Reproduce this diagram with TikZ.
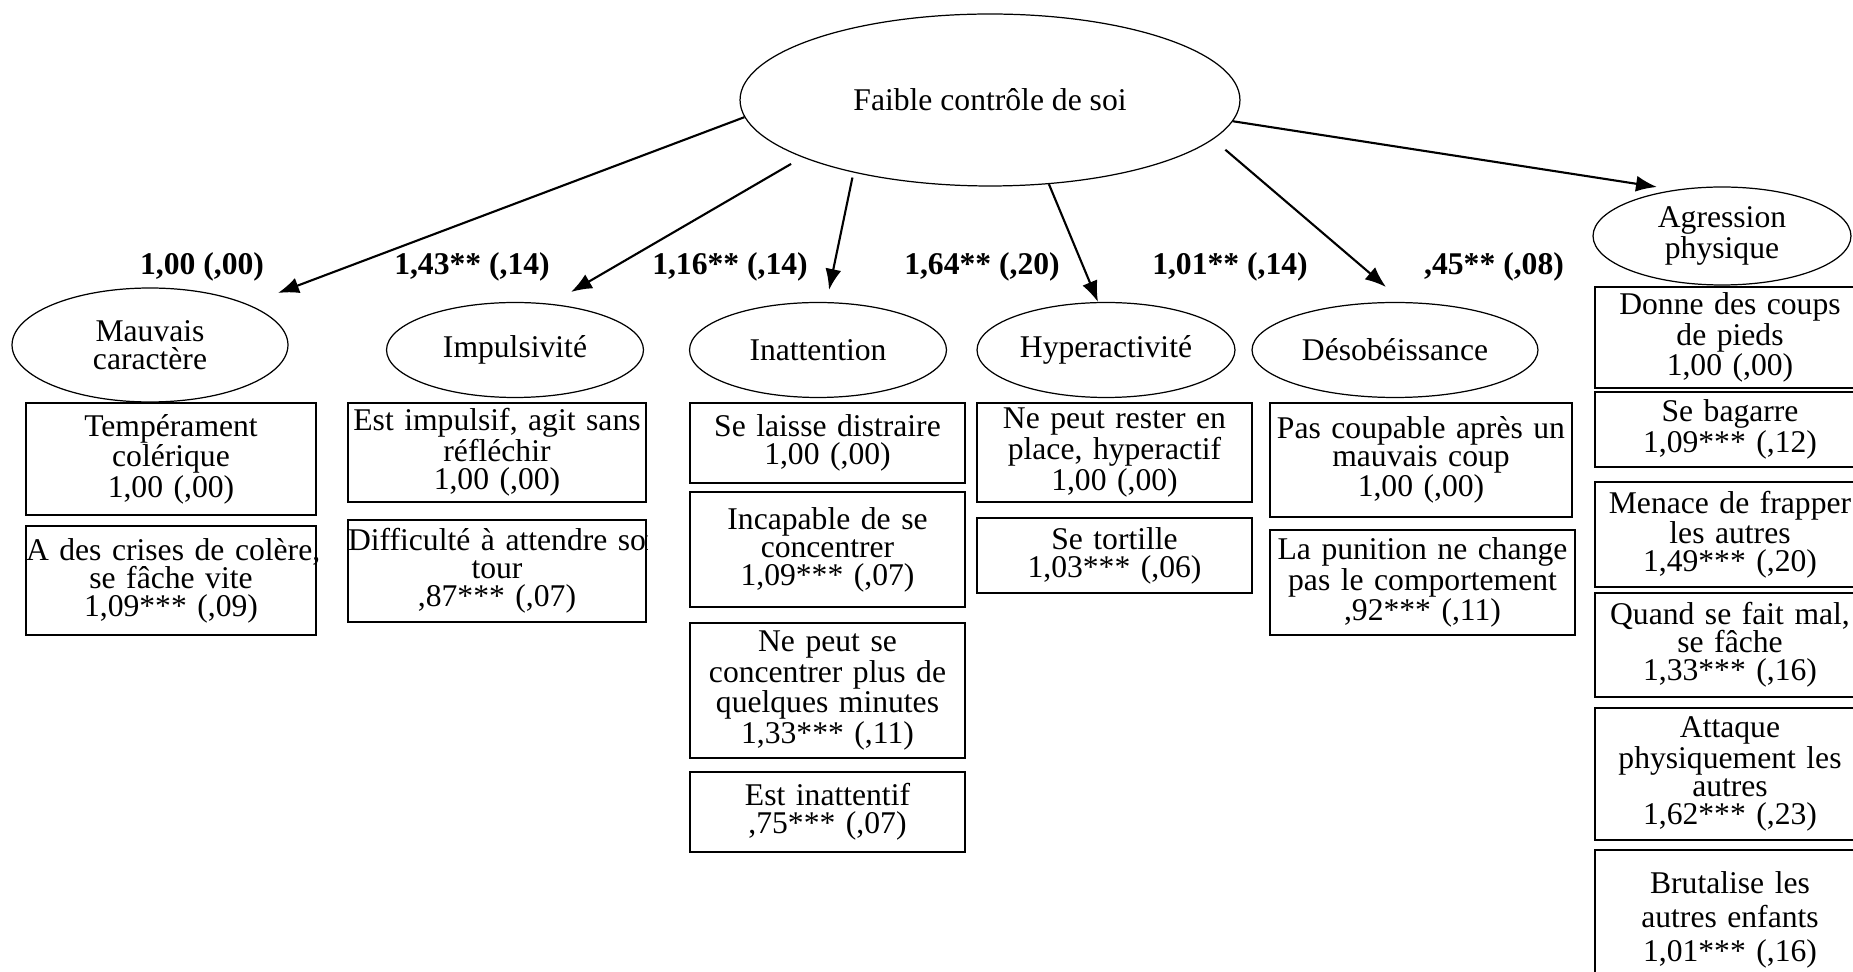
\documentclass[tikz,border=0pt]{standalone}
\usepackage{fontspec}
\setmainfont{Liberation Serif}
\usetikzlibrary{shapes.geometric,arrows.meta}

\begin{document}
\begin{tikzpicture}[x=0.02cm,y=-0.02cm,
    font=\fontsize{18}{15.9}\selectfont,
    latent/.style={draw,ellipse,line width=0.7pt,inner sep=0pt,align=center},
    item/.style={draw,rectangle,line width=0.8pt,inner sep=0pt,align=center},
    coef/.style={font=\fontsize{18}{15.9}\selectfont\bfseries},
    load/.style={line width=1.2pt,-{Latex[length=0.42cm,width=0.32cm]}}]
    \useasboundingbox (0,0) rectangle (1853,972);

    \node[latent,minimum width=10cm,minimum height=3.44cm] (fcs) at (990,100) {Faible contrôle de soi};

    \node[latent,minimum width=5.52cm,minimum height=2.28cm] (mc) at (150,345) {Mauvais\\caractère};
    \node[latent,minimum width=5.14cm,minimum height=1.9cm] (imp) at (515,350) {Impulsivité};
    \node[latent,minimum width=5.14cm,minimum height=1.9cm] (ina) at (818,350) {Inattention};
    \node[latent,minimum width=5.16cm,minimum height=1.9cm] (hyp) at (1106,350) {Hyperactivité};
    \node[latent,minimum width=5.72cm,minimum height=1.9cm] (des) at (1395,350) {Désobéissance};
    \node[latent,minimum width=5.16cm,minimum height=1.96cm] (agr) at (1722,236) {Agression\\physique};

    \node[coef] (c1) at (202,267) {1,00 (,00)};
    \node[coef] (c2) at (472,267) {1,43** (,14)};
    \node[coef] (c3) at (730,267) {1,16** (,14)};
    \node[coef] (c4) at (982,267) {1,64** (,20)};
    \node[coef] (c5) at (1230,267) {1,01** (,14)};
    \node[coef] (c6) at (1494,267) {,45** (,08)};

    \coordinate (tipmc) at (278,293);
    \coordinate (tipimp) at (571,292);
    \coordinate (tipina) at (829,290);
    \coordinate (tiphyp) at (1098,302);
    \coordinate (tipdes) at (1386,287);
    \coordinate (tipagr) at (1657,187);
    \draw[load] (fcs.184.6) -- (tipmc);
    \draw[load,shorten <=0.26cm] (fcs.197) -- (tipimp);
    \draw[load,shorten <=0.1cm] (fcs.208.7) -- (tipina);
    \draw[load] (fcs.305.7) -- (tiphyp);
    \draw[load,shorten <=0.32cm] (fcs.350.2) -- (tipdes);
    \draw[load] (fcs.355.4) -- (tipagr);

    \node[item,text width=5.8cm,minimum height=2.24cm] (mc1) at (171,459) {Tempérament\\colérique\\1,00 (,00)};
    \node[item,text width=5.8cm,minimum height=2.18cm] (mc2) at (171,580.5) {\mbox{A des crises de colère,}\\se fâche vite\\1,09*** (,09)};

    \node[item,text width=5.96cm,minimum height=1.98cm] (imp1) at (497,452.5) {Est impulsif, agit sans\\réfléchir\\1,00 (,00)};
    \begin{scope}
        \clip (347,519) rectangle (647,623);
        \node[item,text width=5.96cm,minimum height=2.04cm] (imp2) at (497,571) {\mbox{Difficulté à attendre son}\\tour\\,87*** (,07)};
    \end{scope}

    \node[item,text width=5.5cm,minimum height=1.6cm] (ina1) at (827.5,443) {Se laisse distraire\\1,00 (,00)};
    \node[item,text width=5.5cm,minimum height=2.3cm] (ina2) at (827.5,549.5) {Incapable de se\\concentrer\\1,09*** (,07)};
    \node[item,text width=5.5cm,minimum height=2.7cm] (ina3) at (827.5,690.5) {Ne peut se\\concentrer plus de\\quelques minutes\\1,33*** (,11)};
    \node[item,text width=5.5cm,minimum height=1.6cm] (ina4) at (827.5,812) {Est inattentif\\,75*** (,07)};

    \node[item,text width=5.5cm,minimum height=1.98cm] (hyp1) at (1114.5,452.5) {Ne peut rester en\\place, hyperactif\\1,00 (,00)};
    \node[item,text width=5.5cm,minimum height=1.5cm] (hyp2) at (1114.5,555.5) {Se tortille\\1,03*** (,06)};

    \node[item,text width=6.04cm,minimum height=2.28cm] (des1) at (1421,460) {Pas coupable après un\\mauvais coup\\1,00 (,00)};
    \node[item,text width=6.1cm,minimum height=2.1cm] (des2) at (1422.5,582.5) {La punition ne change\\pas le comportement\\,92*** (,11)};

    \node[item,text width=5.4cm,minimum height=2.02cm] (agr1) at (1730,337.5) {Donne des coups\\de pieds\\1,00 (,00)};
    \node[item,text width=5.4cm,minimum height=1.5cm] (agr2) at (1730,429.5) {Se bagarre\\1,09*** (,12)};
    \node[item,text width=5.4cm,minimum height=2.1cm] (agr3) at (1730,534.5) {Menace de frapper\\les autres\\1,49*** (,20)};
    \node[item,text width=5.4cm,minimum height=2.08cm] (agr4) at (1730,645) {Quand se fait mal,\\se fâche\\1,33*** (,16)};
    \node[item,text width=5.4cm,minimum height=2.64cm] (agr5) at (1730,774) {Attaque\\physiquement les\\autres\\1,62*** (,23)};
    \node[item,text width=5.4cm,minimum height=2.8cm,font=\fontsize{18}{19.3}\selectfont] (agr6) at (1730,920) {Brutalise les\\autres enfants\\1,01*** (,16)};
\end{tikzpicture}
\end{document}
